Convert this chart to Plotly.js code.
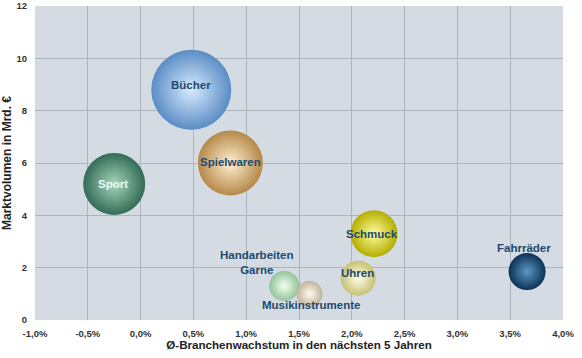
<!DOCTYPE html>
<html>
<head>
<meta charset="utf-8">
<script src="https://cdn.plot.ly/plotly-3.0.1.min.js"></script>
<style>
  html, body { margin: 0; padding: 0; background: #ffffff; }
  #chart { width: 582px; height: 358px; }
</style>
</head>
<body>
<div id="chart"></div>
<script>
// Branchen: Wachstum (% p.a., nächste 5 Jahre) gegen Marktvolumen (Mrd. €)
const branchen = ['Sport', 'Bücher', 'Spielwaren', 'Schmuck', 'Uhren', 'Handarbeiten<br>Garne', 'Musikinstrumente', 'Fahrräder'];
const wachstum = [-0.25, 0.48, 0.85, 2.21, 2.06, 1.36, 1.60, 3.66];
const marktvolumen = [5.2, 8.8, 6.0, 3.3, 1.6, 1.3, 1.0, 1.85];
const blasengroesse = [62, 80, 65, 47, 35, 30, 26, 37];

const xTickVals = [-1, -0.5, 0, 0.5, 1, 1.5, 2, 2.5, 3, 3.5, 4];
const xTickText = ['-1,0%', '-0,5%', '0,0%', '0,5%', '1,0%', '1,5%', '2,0%', '2,5%', '3,0%', '3,5%', '4,0%'];
const yTickVals = [0, 2, 4, 6, 8, 10, 12];

// Kugel-Optik: dunkler Rand, heller Kern
const randFarbe = ['#336b55', '#5a8cc4', '#b58848', '#b5ad00', '#c6c173', '#94c39a', '#c2b297', '#0d3154'];
const kernFarbe = ['#a6d6bc', '#d8ecff', '#fff1d2', '#ffffa0', '#ffffea', '#f2fff2', '#fffbf4', '#5b98c5'];

// Beschriftungsversatz in Pixeln relativ zur Kugelmitte
const labelStil = {
  dx: [-1, 0, 0, -2, -1, -27, 1, -3],
  dy: [0, 5, 1, 0, 5, 23, -11, 24],
  farbe: ['#eef7f1', '#1c4a6e', '#1c4a6e', '#1c4a6e', '#1c4a6e', '#1c4a6e', '#1c4a6e', '#1c4a6e']
};

const schrift = 'Arial, "Liberation Sans", sans-serif';

const trace = {
  type: 'scatter',
  mode: 'markers',
  x: wachstum,
  y: marktvolumen,
  hoverinfo: 'skip',
  marker: {
    size: blasengroesse,
    sizemode: 'diameter',
    color: randFarbe,
    opacity: 1,
    line: { width: 0 },
    gradient: { type: 'radial', color: kernFarbe }
  }
};

const annotations = branchen.map((name, i) => ({
  x: wachstum[i],
  y: marktvolumen[i],
  xref: 'x',
  yref: 'y',
  text: name,
  showarrow: false,
  xshift: labelStil.dx[i],
  yshift: labelStil.dy[i],
  font: { family: schrift, size: 11.5, color: labelStil.farbe[i], weight: 'bold' }
}));

const tickFont = { family: schrift, size: 9.5, color: '#333333', weight: 'bold' };

const layout = {
  width: 582,
  height: 358,
  margin: { l: 35, r: 19, t: 6, b: 38 },
  paper_bgcolor: '#ffffff',
  plot_bgcolor: '#d4dbe3',
  showlegend: false,
  xaxis: {
    range: [-1, 4],
    tickvals: xTickVals,
    ticktext: xTickText,
    tickfont: tickFont,
    ticklabelstandoff: 6,
    showgrid: true,
    gridcolor: '#adb4bc',
    gridwidth: 1,
    zeroline: false,
    showline: false,
    ticks: '',
    fixedrange: true,
    title: { text: 'Ø-Branchenwachstum in den nächsten 5 Jahren', font: { family: schrift, size: 11.6, color: '#222222', weight: 'bold' }, standoff: 1 }
  },
  yaxis: {
    range: [0, 12],
    tickvals: yTickVals,
    tickfont: tickFont,
    showgrid: true,
    gridcolor: '#adb4bc',
    gridwidth: 1,
    zeroline: false,
    showline: false,
    ticks: '',
    ticklabelstandoff: 7,
    ticklabeloverflow: 'allow',
    fixedrange: true,
    title: { text: 'Marktvolumen in Mrd. €', font: { family: schrift, size: 12, color: '#222222', weight: 'bold' }, standoff: 3 }
  },
  annotations: annotations
};

Plotly.newPlot('chart', [trace], layout, { displayModeBar: false, staticPlot: true });
</script>
</body>
</html>
